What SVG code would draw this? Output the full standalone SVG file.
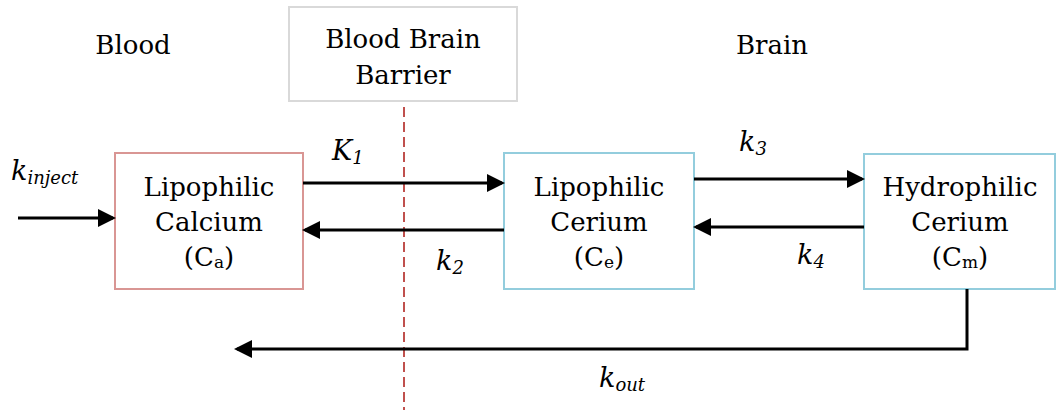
<svg xmlns="http://www.w3.org/2000/svg" width="1057" height="414" viewBox="0 0 1057 414">
<style>
text{font-family:'DejaVu Serif',serif;fill:#000}
.t{font-size:26px;text-anchor:middle}
.m{font-style:italic;font-size:27px}
.s{font-size:18px}
.c{stroke:#000;stroke-width:3;fill:none}
</style>
<defs>
<marker id="ah" markerWidth="6" markerHeight="6" refX="5" refY="3" orient="auto" markerUnits="strokeWidth">
<path d="M0,0 L6,3 L0,6 z" fill="#000"/>
</marker>
</defs>
<rect width="1057" height="414" fill="#fff"/>
<text class="t" x="133" y="54">Blood</text>
<text class="t" x="772" y="54">Brain</text>
<g id="bbb">
<rect x="289" y="7" width="228" height="94" fill="#fff" stroke="#d9d9d9" stroke-width="2"/>
<text class="t" x="403" y="48">Blood Brain</text>
<text class="t" x="403" y="84">Barrier</text>
</g>
<line x1="404" y1="107" x2="404" y2="410" stroke="#c0504d" stroke-width="2" stroke-dasharray="10,5"/>
<g id="ca">
<rect x="115" y="153" width="188" height="136" fill="#fff" stroke="#d99694" stroke-width="2"/>
<text class="t" x="209" y="196">Lipophilic</text>
<text class="t" x="209" y="231">Calcium</text>
<text class="t" x="209" y="266">(C<tspan font-size="17" dy="2">a</tspan><tspan dy="-2">)</tspan></text>
</g>
<g id="ce">
<rect x="504" y="153" width="190" height="136" fill="#fff" stroke="#93cddd" stroke-width="2"/>
<text class="t" x="599" y="196">Lipophilic</text>
<text class="t" x="599" y="231">Cerium</text>
<text class="t" x="599" y="266">(C<tspan font-size="17" dy="2">e</tspan><tspan dy="-2">)</tspan></text>
</g>
<g id="cm">
<rect x="864" y="154" width="191" height="135" fill="#fff" stroke="#93cddd" stroke-width="2"/>
<text class="t" x="960" y="196">Hydrophilic</text>
<text class="t" x="960" y="231">Cerium</text>
<text class="t" x="960" y="266">(C<tspan font-size="17" dy="2">m</tspan><tspan dy="-2">)</tspan></text>
</g>
<g id="connectors">
<line class="c" x1="18" y1="218" x2="113" y2="218" marker-end="url(#ah)"/>
<line class="c" x1="303" y1="183" x2="502" y2="183" marker-end="url(#ah)"/>
<line class="c" x1="504" y1="230" x2="305" y2="230" marker-end="url(#ah)"/>
<line class="c" x1="694" y1="179" x2="862" y2="179" marker-end="url(#ah)"/>
<line class="c" x1="864" y1="227" x2="696" y2="227" marker-end="url(#ah)"/>
<polyline class="c" points="967,289 967,349 237,349" marker-end="url(#ah)"/>
</g>
<g id="labels">
<text class="m" x="11" y="180">k<tspan class="s" dy="4">inject</tspan></text>
<text class="m" x="332" y="160">K<tspan class="s" dy="4">1</tspan></text>
<text class="m" x="436" y="270">k<tspan class="s" dy="4">2</tspan></text>
<text class="m" x="739" y="151">k<tspan class="s" dy="4">3</tspan></text>
<text class="m" x="797" y="264">k<tspan class="s" dy="4">4</tspan></text>
<text class="m" x="599" y="387">k<tspan class="s" dy="4">out</tspan></text>
</g>
</svg>
